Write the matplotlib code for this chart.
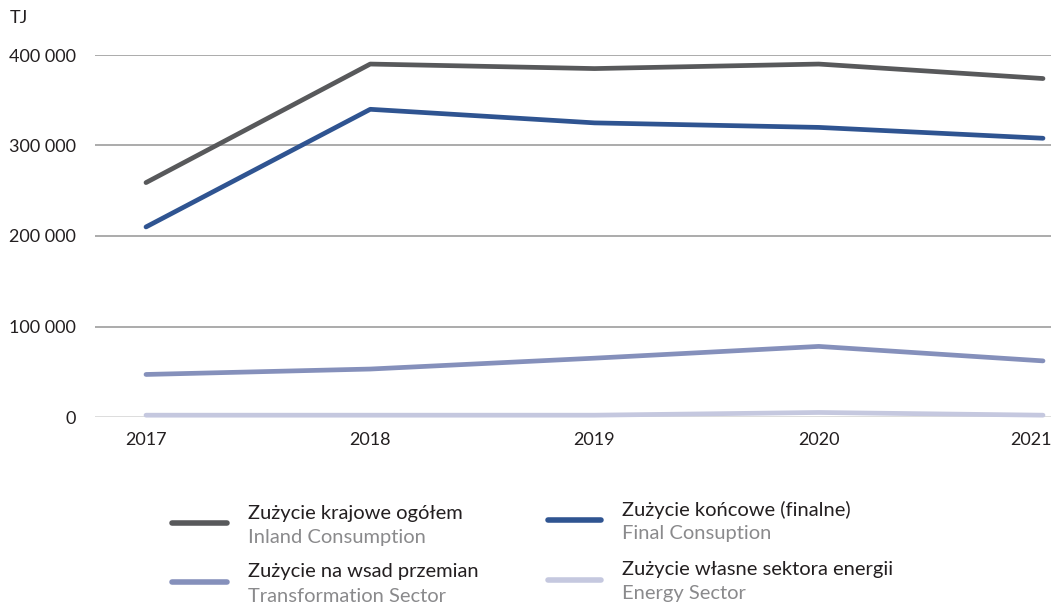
import matplotlib
matplotlib.use("Agg")
import matplotlib.pyplot as plt
from matplotlib.lines import Line2D
import matplotlib.transforms as mtransforms

years = [2017, 2018, 2019, 2020, 2021]
inland = [259000, 390000, 385000, 390000, 374000]
final = [210000, 340000, 325000, 320000, 308000]
transformation = [47000, 53000, 65000, 78000, 62000]
energy_sector = [2000, 2000, 2000, 5000, 2000]

labels_pl = ["Zużycie krajowe ogółem", "Zużycie końcowe (finalne)",
             "Zużycie na wsad przemian", "Zużycie własne sektora energii"]
labels_en = ["Inland Consumption", "Final Consuption",
             "Transformation Sector", "Energy Sector"]
colors = ["#58595b", "#2f5491", "#8590bb", "#c5c8df"]
yticks = [0, 100000, 200000, 300000, 400000]
ytick_labels = ["0", "100 000", "200 000", "300 000", "400 000"]

plt.rcParams['font.family'] = ['Lato', 'DejaVu Sans']

W, H = 1051, 607
fig = plt.figure(figsize=(W / 100, H / 100), dpi=100)
ax_left, ax_right = 95, 1051
ax_top, ax_bottom = 55, 417
ax = fig.add_axes([ax_left / W, 1 - ax_bottom / H, (ax_right - ax_left) / W, (ax_bottom - ax_top) / H])

series = [inland, final, transformation, energy_sector]
for s, c in zip(reversed(series), reversed(colors)):
    ax.plot(years, s, color=c, lw=3.4, solid_capstyle='round', solid_joinstyle='round', zorder=3,
            clip_on=False)

x0 = 146
x1 = 1043
per = (x1 - x0) / 4
ax.set_xlim(2017 - (x0 - ax_left) / per, 2021 + (ax_right - x1) / per)
ax.set_ylim(0, 400000)
ax.set_yticks(yticks)
ax.set_yticklabels(ytick_labels)
ax.set_xticks(years)
ax.set_xticklabels([str(y) for y in years])
for sp in ax.spines.values():
    sp.set_visible(False)
ax.tick_params(axis='both', length=0, labelsize=13, colors='#231f20')
ax.tick_params(axis='y', pad=14)
ax.tick_params(axis='x', pad=11)
# keep last year label inside the figure, as in the reference
last = ax.get_xticklabels()[-1]
last.set_transform(last.get_transform() + mtransforms.ScaledTranslation(-12 / 100, 0, fig.dpi_scale_trans))
for yv in yticks[1:]:
    ax.axhline(yv, color='#9d9d9d', lw=1.2, zorder=1)
ax.axhline(0, color='#555555', lw=1.0, zorder=1)

fig.text(10 / W, 1 - 18 / H, "TJ", fontsize=13, color='#231f20', va='center', ha='left')

# legend
entries = [(172, 227, 248, 523), (548, 601, 622, 520), (172, 227, 248, 582), (548, 601, 622, 580)]
for i, (lx0, lx1, tx, ly) in enumerate(entries):
    fig.add_artist(Line2D([lx0 / W, lx1 / W], [1 - ly / H, 1 - ly / H], color=colors[i], lw=4,
                          solid_capstyle='round', transform=fig.transFigure))
    fig.text(tx / W, 1 - (ly - 10) / H, labels_pl[i], fontsize=14.5, color='#231f20', va='center', ha='left')
    fig.text(tx / W, 1 - (ly + 14) / H, labels_en[i], fontsize=14.5, color='#8a8a8c', va='center', ha='left')

fig.savefig("out.png", dpi=100)
